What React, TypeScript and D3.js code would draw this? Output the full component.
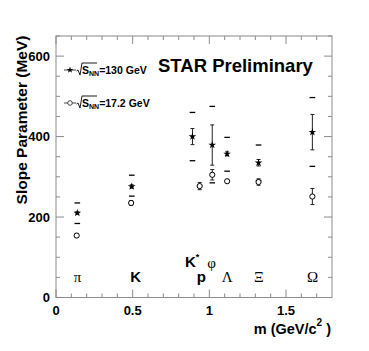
import { useEffect, useRef } from "react"
import * as d3 from "d3"

// 130 GeV (stars)
const starMass = [0.139, 0.494, 0.89, 1.019, 1.116, 1.321, 1.672]
const starSlope = [210, 276, 400, 379, 357, 335, 411]
const starErr = [3, 4, 20, 50, 5, 8, 44]
const starSysHigh = [235, 304, 460, 475, 398, 379, 497]
const starSysLow = [184, 252, 340, 285, 314, 291, 326]

// 17.2 GeV (open circles)
const circleMass = [0.135, 0.49, 0.937, 1.019, 1.116, 1.321, 1.672]
const circleSlope = [154, 235, 277, 305, 289, 287, 251]
const circleErr = [5, 6, 9, 13, 3, 8, 20]

// particle labels
const particleNames = ["π", "K", "p", "Λ", "Ξ", "Ω", "K", "φ"]
const particleMass = [0.14, 0.52, 0.948, 1.116, 1.322, 1.673, 0.888, 1.015]
const particleLabelY = [52, 52, 52, 52, 52, 52, 88, 86]
const particleBold = [false, true, true, false, false, false, true, false]

const xTicks = [0, 0.5, 1, 1.5]
const yTicks = [0, 200, 400, 600]

export default function App() {
    const svgRef = useRef<SVGSVGElement>(null)
    const width = 369
    const height = 351
    const margin = { top: 36, right: 37, bottom: 54, left: 56 }

    useEffect(() => {
        const svg = d3.select(svgRef.current)
        svg.selectAll("*").remove()

        const x = d3.scaleLinear([0, 1.8], [margin.left, width - margin.right])
        const y = d3.scaleLinear([0, 650], [height - margin.bottom + 0.5, margin.top])
        const frameColor = "#8c8c8c"

        // frame
        svg.append("rect")
            .attr("x", x(0))
            .attr("y", y(650))
            .attr("width", x(1.8) - x(0))
            .attr("height", y(0) - y(650))
            .attr("fill", "none")
            .attr("stroke", frameColor)
            .attr("stroke-width", 1)

        // x ticks (bottom up, top down)
        d3.range(0, 18).map(i => i / 10).forEach(v => {
            const major = Math.abs(v * 2 - Math.round(v * 2)) < 1e-6
            const len = major ? 8 : 4
            svg.append("line").attr("x1", x(v)).attr("x2", x(v))
                .attr("y1", y(0)).attr("y2", y(0) - len)
                .attr("stroke", frameColor)
            svg.append("line").attr("x1", x(v)).attr("x2", x(v))
                .attr("y1", y(650)).attr("y2", y(650) + len)
                .attr("stroke", frameColor)
        })

        // y ticks (left and right, inward)
        d3.range(0, 651, 50).forEach(v => {
            const len = v % 200 === 0 ? 8 : 4
            svg.append("line").attr("x1", x(0)).attr("x2", x(0) + len)
                .attr("y1", y(v)).attr("y2", y(v))
                .attr("stroke", frameColor)
            svg.append("line").attr("x1", x(1.8)).attr("x2", x(1.8) - len)
                .attr("y1", y(v)).attr("y2", y(v))
                .attr("stroke", frameColor)
        })

        const sans = "Liberation Sans, Arial, sans-serif"
        const serif = "Liberation Serif, Times New Roman, serif"

        // tick labels
        svg.selectAll(".xlab").data(xTicks).join("text")
            .attr("x", d => x(d)).attr("y", 315)
            .attr("text-anchor", "middle")
            .attr("font-family", sans).attr("font-weight", "bold").attr("font-size", 13)
            .text(d => `${d}`)

        svg.selectAll(".ylab").data(yTicks).join("text")
            .attr("x", 50).attr("y", d => y(d) + 4.5)
            .attr("text-anchor", "end")
            .attr("font-family", sans).attr("font-weight", "bold").attr("font-size", 13)
            .text(d => `${d}`)

        // axis titles
        svg.append("text")
            .attr("transform", `translate(27,120) rotate(-90)`)
            .attr("text-anchor", "middle")
            .attr("font-family", sans).attr("font-weight", "bold").attr("font-size", 15.5)
            .text("Slope Parameter (MeV)")

        const xt = svg.append("text")
            .attr("x", 331).attr("y", 334)
            .attr("text-anchor", "end")
            .attr("font-family", sans).attr("font-weight", "bold").attr("font-size", 14.5)
        xt.append("tspan").text("m (GeV/c")
        xt.append("tspan").attr("font-size", 10).attr("dy", -8).text("2")
        xt.append("tspan").attr("dy", 8).text(" )")

        // STAR Preliminary
        svg.append("text")
            .attr("x", 158).attr("y", 72)
            .attr("font-family", sans).attr("font-weight", "bold").attr("font-size", 18.5)
            .text("STAR Preliminary")

        // particle labels
        particleNames.forEach((name, i) => {
            const t = svg.append("text")
                .attr("x", x(particleMass[i])).attr("y", y(particleLabelY[i]) + 5)
                .attr("text-anchor", "middle")
                .attr("font-family", particleBold[i] ? sans : serif)
                .attr("font-weight", particleBold[i] ? "bold" : "normal")
                .attr("font-size", 15)
                .attr("fill", "black")
            t.append("tspan").text(name)
            if (i === 6) {
                t.append("tspan").attr("font-size", 9).attr("dy", -7).text("*")
            }
        })

        const star = d3.symbol(d3.symbolStar, 18)
        const capW = 2

        // 130 GeV systematic dashes
        const drawDash = (m: number, v: number) => {
            svg.append("line")
                .attr("x1", x(m) - 2.8).attr("x2", x(m) + 2.8)
                .attr("y1", y(v)).attr("y2", y(v))
                .attr("stroke", "black").attr("stroke-width", 1.3)
        }
        starMass.forEach((m, i) => {
            drawDash(m, starSysHigh[i])
            drawDash(m, starSysLow[i])
        })

        // error bars
        const drawErr = (m: number, v: number, e: number) => {
            svg.append("line")
                .attr("x1", x(m)).attr("x2", x(m))
                .attr("y1", y(v - e)).attr("y2", y(v + e))
                .attr("stroke", "#222").attr("stroke-width", 1)
            ;[v - e, v + e].forEach(end => {
                svg.append("line")
                    .attr("x1", x(m) - capW).attr("x2", x(m) + capW)
                    .attr("y1", y(end)).attr("y2", y(end))
                    .attr("stroke", "#222").attr("stroke-width", 1)
            })
        }
        starMass.forEach((m, i) => drawErr(m, starSlope[i], starErr[i]))
        circleMass.forEach((m, i) => drawErr(m, circleSlope[i], circleErr[i]))

        // markers
        svg.selectAll(".star").data(starMass).join("path")
            .attr("d", star)
            .attr("transform", (d, i) => `translate(${x(d)},${y(starSlope[i])})`)
            .attr("fill", "black")

        svg.selectAll(".circ").data(circleMass).join("circle")
            .attr("cx", d => x(d)).attr("cy", (_, i) => y(circleSlope[i]))
            .attr("r", 2.6)
            .attr("fill", "white").attr("stroke", "black").attr("stroke-width", 1)

        // legend
        const drawLegend = (yy: number, label: string, isStar: boolean) => {
            svg.append("line").attr("x1", 64).attr("x2", 76)
                .attr("y1", yy).attr("y2", yy).attr("stroke", "#444").attr("stroke-width", 1)
            if (isStar) {
                svg.append("path").attr("d", d3.symbol(d3.symbolStar, 14)).attr("transform", `translate(70,${yy})`).attr("fill", "black")
            } else {
                svg.append("circle").attr("cx", 70).attr("cy", yy).attr("r", 2.3)
                    .attr("fill", "white").attr("stroke", "#444")
            }
            // radical sign
            svg.append("path")
                .attr("d", `M76.5,${yy + 1} L78,${yy} L80,${yy + 5} L82,${yy - 7} L97,${yy - 7}`)
                .attr("fill", "none").attr("stroke", "black").attr("stroke-width", 0.9)
            const t = svg.append("text")
                .attr("x", 82).attr("y", yy + 4)
                .attr("font-family", sans).attr("font-weight", "bold").attr("font-size", 10.5)
            t.append("tspan").text("S")
            t.append("tspan").attr("font-size", 7).attr("dy", 2).text("NN")
            t.append("tspan").attr("dy", -2).text(label)
        }
        drawLegend(70, "=130 GeV", true)
        drawLegend(103, "=17.2 GeV", false)
    }, [])

    return (
        <svg
            ref={svgRef}
            width={width}
            height={height}
            style={{ position: "absolute", left: 0, top: 0, background: "white" }}
        />
    )
}
